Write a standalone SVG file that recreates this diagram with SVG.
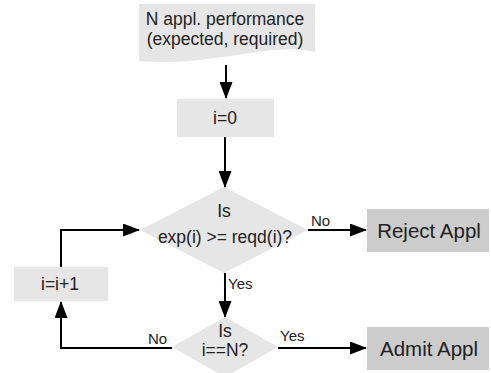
<svg xmlns="http://www.w3.org/2000/svg" width="491" height="373" viewBox="0 0 491 373">
  <style>
    .light { fill: #e6e6e6; stroke: none; }
    .dark { fill: #cccccc; stroke: none; }
    text { font-family: "Liberation Sans", Arial, sans-serif; fill: #222222; text-anchor: middle; }
    .t { font-size: 17.5px; }
    .big { font-size: 20.5px; }
    .lbl { font-size: 15px; text-anchor: start; }
    .edge { fill: none; stroke: #000000; stroke-width: 2; }
  </style>
  <defs>
    <marker id="arrow" viewBox="0 0 17 13" refX="16" refY="6.5" markerWidth="17" markerHeight="13" markerUnits="userSpaceOnUse" orient="auto">
      <path d="M0,0 L17,6.5 L0,13 Z" fill="#000000"/>
    </marker>
  </defs>

  <!-- input document -->
  <g id="input">
    <path class="light" d="M139,4 H315 V52 C290,46 265,51 230,56 C195,61 165,64 139,61 Z"/>
    <text class="t" x="225" y="25">N appl. performance</text>
    <text class="t" x="225" y="45">(expected, required)</text>
  </g>

  <!-- init counter -->
  <g id="init">
    <rect class="light" x="177" y="99" width="97" height="38"/>
    <text class="t" x="225" y="124">i=0</text>
  </g>

  <!-- performance test -->
  <g id="check">
    <polygon class="light" points="224,187 308,230 224,273 140,230"/>
    <text class="t" x="224" y="217">Is</text>
    <text class="t" x="225" y="243">exp(i) &gt;= reqd(i)?</text>
  </g>

  <!-- reject -->
  <g id="reject">
    <rect class="dark" x="367" y="209" width="122" height="43"/>
    <text class="big" x="429" y="238">Reject Appl</text>
  </g>

  <!-- loop end test -->
  <g id="done">
    <polygon class="light" points="225,317 278,347 225,377 172,347"/>
    <text class="t" x="225" y="337">Is</text>
    <text class="t" x="225" y="356">i==N?</text>
  </g>

  <!-- admit -->
  <g id="admit">
    <rect class="dark" x="367" y="327" width="122" height="43"/>
    <text class="big" x="429" y="356">Admit Appl</text>
  </g>

  <!-- increment -->
  <g id="increment">
    <rect class="light" x="14" y="267" width="94" height="34"/>
    <text class="t" x="60" y="290">i=i+1</text>
  </g>

  <g id="connectors">
    <path class="edge" d="M226,65 V98" marker-end="url(#arrow)"/>
    <path class="edge" d="M225,137 V187" marker-end="url(#arrow)"/>
    <path class="edge" d="M308,230 H366" marker-end="url(#arrow)"/>
    <text class="lbl" x="311" y="226">No</text>
    <path class="edge" d="M225,273 V317" marker-end="url(#arrow)"/>
    <text class="lbl" x="228" y="289">Yes</text>
    <path class="edge" d="M278,348 H366" marker-end="url(#arrow)"/>
    <text class="lbl" x="280" y="341">Yes</text>
    <path class="edge" d="M172,348 H61 V302" marker-end="url(#arrow)"/>
    <text class="lbl" x="148" y="344">No</text>
    <path class="edge" d="M61,267 V230 H139" marker-end="url(#arrow)"/>
  </g>
</svg>
